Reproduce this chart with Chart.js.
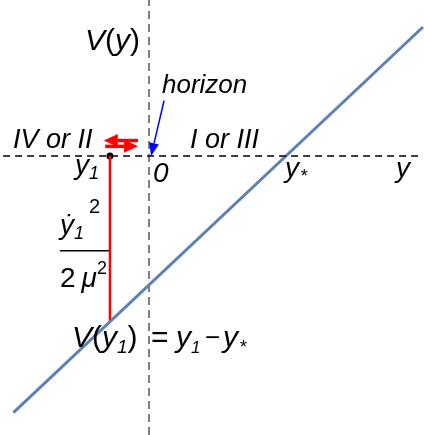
<!DOCTYPE html>
<html>
<head>
<meta charset="utf-8">
<script src="https://cdn.jsdelivr.net/npm/chart.js@4"></script>
<style>
  body { margin: 0; background: #fff; }
  canvas { display: block; }
</style>
</head>
<body>
<canvas id="chart" width="424" height="435"></canvas>
<script>
// Potential V(y) = y - y*, with y* = 1 (data units)
const yStar = 1;
const lineY = [-0.99, 2.0];        // y values of the potential line
const lineV = [-1.99, 1.0];        // V(y) at those points
const y1 = -0.285;                 // particle position
const Vy1 = -1.285;                // V(y1) = y1 - y*
const fracBarX = [-0.65, -0.285];  // the kinetic term's fraction bar
const fracBarV = -0.734;

// axis extents
const xMin = -1.0876, xMax = 2.0073;
const vMin = -2.1628, vMax = 1.2093;

const font = 'Liberation Sans, Arial, sans-serif';

// draws a run of text pieces: [text, size, italic, dy, dx]
function drawRuns(ctx, x, y, parts, color) {
    ctx.fillStyle = color || '#000';
    ctx.textBaseline = 'alphabetic';
    ctx.textAlign = 'left';
    parts.forEach(p => {
        const [t, size, it, dy, dx] = p;
        x += dx || 0;
        ctx.font = (it ? 'italic ' : '') + size + 'px ' + font;
        ctx.fillText(t, x, y + (dy || 0));
        x += ctx.measureText(t).width;
    });
}

function arrow(ctx, x0, y0, x1, y1, color, width, headLen, headW) {
    const ang = Math.atan2(y1 - y0, x1 - x0);
    const bx = x1 - headLen * Math.cos(ang), by = y1 - headLen * Math.sin(ang);
    ctx.strokeStyle = color;
    ctx.fillStyle = color;
    ctx.lineWidth = width;
    ctx.beginPath();
    ctx.moveTo(x0, y0);
    ctx.lineTo(bx, by);
    ctx.stroke();
    ctx.beginPath();
    ctx.moveTo(x1, y1);
    ctx.lineTo(bx + headW * Math.sin(ang), by - headW * Math.cos(ang));
    ctx.lineTo(bx - headW * Math.sin(ang), by + headW * Math.cos(ang));
    ctx.closePath();
    ctx.fill();
}

const labels = {
    id: 'labels',
    afterDatasetsDraw(chart) {
        const ctx = chart.ctx;
        const sx = chart.scales.x, sy = chart.scales.y;
        const px = v => sx.getPixelForValue(v), py = v => sy.getPixelForValue(v);
        ctx.save();

        // arrows
        arrow(ctx, px(-0.08), py(0.12), px(-0.33), py(0.12), '#ff0000', 3.5, 14, 6.5);
        arrow(ctx, px(-0.32), py(0.075), px(-0.08), py(0.075), '#ff0000', 3.5, 14, 6.5);
        arrow(ctx, px(0.11), py(0.43), px(0.015), py(0.0), '#0000ff', 1.5, 13, 5);

        drawRuns(ctx, 85, 50, [['V', 30, 1], ['(', 30, 0], ['y', 30, 1], [')', 30, 0]]);
        drawRuns(ctx, 162, 93, [['horizon', 26, 1]]);
        drawRuns(ctx, 13, 148, [['IV or II', 27, 1]]);
        drawRuns(ctx, 190, 148, [['I or III', 27, 1]]);
        drawRuns(ctx, 75, 174, [['y', 28, 1], ['1', 18, 1, 5]]);
        drawRuns(ctx, 153, 182, [['0', 28, 1]]);
        drawRuns(ctx, 285, 177, [['y', 28, 1], ['*', 18, 1, 5, 1]]);
        drawRuns(ctx, 396, 177, [['y', 28, 1]]);

        // kinetic term  y'1^2 / 2 mu^2
        drawRuns(ctx, 60, 234, [['ẏ', 28, 1], ['1', 18, 1, 5], ['2', 20, 0, -21, 5]]);
        drawRuns(ctx, 60, 287, [['2', 28, 0], ['μ', 28, 1, 0, 6], ['2', 18, 0, -13]]);

        // V(y1) = y1 - y*
        drawRuns(ctx, 72, 347, [['V', 30, 1], ['(', 30, 0], ['y', 30, 1], ['1', 19, 1, 6], [')', 30, 0]]);
        drawRuns(ctx, 151, 347, [['=', 30, 0]]);
        drawRuns(ctx, 176, 347, [['y', 30, 1], ['1', 17, 1, 6]]);
        drawRuns(ctx, 205, 346, [['\u2212', 26, 0]]);
        drawRuns(ctx, 223, 347, [['y', 30, 1], ['*', 19, 1, 6, 1]]);

        ctx.restore();
    }
};

const pts = (xs, ys) => xs.map((x, i) => ({ x: x, y: ys[i] }));

new Chart(document.getElementById('chart'), {
    type: 'scatter',
    data: {
        datasets: [
            { data: pts([-1.065, 1.965], [0, 0]), showLine: true, borderColor: '#000', borderWidth: 1.4, borderDash: [7, 5], pointRadius: 0 },
            { data: pts([0, 0], [vMin, vMax]), showLine: true, borderColor: '#808080', borderWidth: 2, borderDash: [8, 5], pointRadius: 0 },
            { data: pts(lineY, lineV), showLine: true, borderColor: '#5e81b5', borderWidth: 3, pointRadius: 0 },
            { data: pts([y1, y1], [0, Vy1]), showLine: true, borderColor: '#ff0000', borderWidth: 2.5, pointRadius: 0 },
            { data: pts(fracBarX, [fracBarV, fracBarV]), showLine: true, borderColor: '#000', borderWidth: 1.5, pointRadius: 0 },
            { data: pts([y1], [0]), pointRadius: 3.5, pointBackgroundColor: '#000', pointBorderWidth: 0 }
        ]
    },
    options: {
        responsive: false,
        animation: false,
        layout: { padding: 0, autoPadding: false },
        scales: {
            x: { type: 'linear', min: xMin, max: xMax, display: false },
            y: { type: 'linear', min: vMin, max: vMax, display: false }
        },
        plugins: { legend: { display: false }, tooltip: { enabled: false } }
    },
    plugins: [labels]
});
</script>
</body>
</html>
